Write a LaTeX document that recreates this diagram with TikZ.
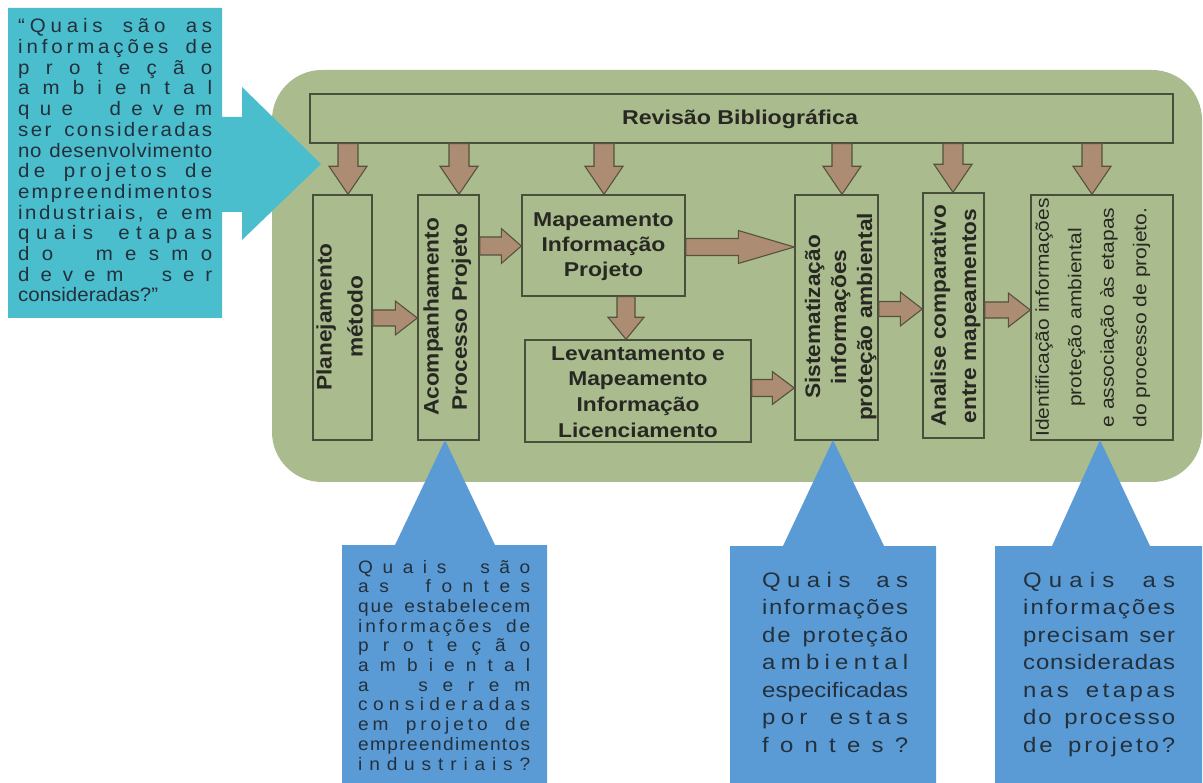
\documentclass[tikz,border=0pt]{standalone}
\usepackage{fontspec}
\setmainfont{Liberation Sans}
\usepackage{graphicx}
\usetikzlibrary{calc}

\definecolor{panelgreen}{RGB}{170,188,142}
\definecolor{qcyan}{RGB}{75,190,205}
\definecolor{qblue}{RGB}{91,155,213}
\definecolor{qtext}{RGB}{35,48,60}
\definecolor{arrowbrown}{RGB}{172,140,115}
\definecolor{arrowedge}{RGB}{85,82,62}
\definecolor{boxline}{RGB}{72,80,60}
\definecolor{labeltext}{RGB}{40,40,35}

% one justified line: letters share the free space, | marks a word gap
\ExplSyntaxOn
\dim_new:N \l_qline_width_dim
\NewDocumentCommand \qwidth { m } { \dim_set:Nn \l_qline_width_dim { #1 } }
\NewDocumentCommand \qline { m }
  {
    \hbox_to_wd:nn { \l_qline_width_dim }
      {
        \tl_map_inline:nn { #1 }
          {
            \str_if_eq:nnTF { ##1 } { | }
              { \hskip .28em \hfil \hfil }
              { ##1 \hfil }
          }
        \unskip
      }
  }
\ExplSyntaxOff

% labels: vertical (bold), vertical (regular), horizontal (bold)
\newcommand\vtext[2]{\fontsize{21}{#1}\selectfont\bfseries
  \scalebox{1.08}[1]{\begin{tabular}{@{}c@{}}#2\end{tabular}}}
\newcommand\vtextlight[2]{\fontsize{18.6}{#1}\selectfont
  \scalebox{1.13}[1]{\begin{tabular}{@{}c@{}}#2\end{tabular}}}
\newcommand\htext[3]{\fontsize{20}{#1}\selectfont\bfseries
  \scalebox{#2}[1]{\begin{tabular}{@{}c@{}}#3\end{tabular}}}

% block arrows between named boxes
\newcommand\rightblock[6]{% from, to, y, shaft half, head half, head length
  \draw[blockarrow] let \p1=(#1.east), \p2=(#2.west), \p3=(0,#3) in
    (\x1,\y3+#4pt) -- (\x2-#6pt,\y3+#4pt) -- (\x2-#6pt,\y3+#5pt) -- (\x2,\y3)
    -- (\x2-#6pt,\y3-#5pt) -- (\x2-#6pt,\y3-#4pt) -- (\x1,\y3-#4pt) -- cycle;}
\newcommand\downblock[6]{% from, to, x, shaft half, head half, head length
  \draw[blockarrow] let \p1=(#1.south), \p2=(#2.north), \p3=(#3,0) in
    (\x3-#4pt,\y1) -- (\x3-#4pt,\y2+#6pt) -- (\x3-#5pt,\y2+#6pt) -- (\x3,\y2)
    -- (\x3+#5pt,\y2+#6pt) -- (\x3+#4pt,\y2+#6pt) -- (\x3+#4pt,\y1) -- cycle;}

\tikzset{
  flowbox/.style={draw=boxline, line width=1.4pt, inner sep=0pt},
  blockarrow/.style={fill=arrowbrown, draw=arrowedge, line width=1.1pt, line join=miter},
  boxlabel/.style={inner sep=0pt, text=labeltext},
  vlabel/.style={boxlabel, rotate=90},
  qnode/.style={inner sep=0pt, text=qtext, anchor=base west}
}

\begin{document}
\begin{tikzpicture}[x=1pt,y=-1pt]
\useasboundingbox (0,0) rectangle (1203,783);
\fill[white] (0,0) rectangle (1203,783);

% green process panel
\fill[panelgreen, rounded corners=50pt] (272,70) rectangle (1202,482);

% process boxes
\node[flowbox, minimum width=863pt, minimum height=49pt] (rev) at (741.5,118.5) {};
\node[flowbox, minimum width=59pt, minimum height=245pt] (plan) at (342.5,317.5) {};
\node[flowbox, minimum width=61pt, minimum height=245pt] (acomp) at (448.5,317.5) {};
\node[flowbox, minimum width=163pt, minimum height=101pt] (mapp) at (603.5,245.5) {};
\node[flowbox, minimum width=226pt, minimum height=102pt] (lev) at (638,391) {};
\node[flowbox, minimum width=83pt, minimum height=245pt] (sist) at (836.5,317.5) {};
\node[flowbox, minimum width=61pt, minimum height=245pt] (anal) at (953.5,315.5) {};
\node[flowbox, minimum width=142pt, minimum height=245pt] (ident) at (1102,317.5) {};

% box labels
\node[boxlabel] (revtext) at (740,119.5) {\htext{25}{1.16}{Revisão Bibliográfica}};
\node[boxlabel] (mapptext) at (603.5,247) {\htext{25}{1.15}{Mapeamento\\Informação\\Projeto}};
\node[boxlabel] (levtext) at (638,393.5) {\htext{25.7}{1.14}{Levantamento e\\Mapeamento\\Informação\\Licenciamento}};
\node[vlabel] (plantext) at (341,317) {\vtext{31}{Planejamento\\método}};
\node[vlabel] (acomptext) at (447,317) {\vtext{28.3}{Acompanhamento\\Processo Projeto}};
\node[vlabel] (sisttext) at (841,317) {\vtext{26}{Sistematização\\informações\\proteção ambiental}};
\node[vlabel] (analtext) at (955,316) {\vtext{30.3}{Analise comparativo\\entre  mapeamentos}};
\node[vlabel] (identtext) at (1091,317.5) {\vtextlight{32.5}{Identificação informações\\proteção ambiental\\e associação às etapas\\do processo de projeto.}};

% arrows from the literature review
\downblock{rev}{plan}{348}{10}{19}{28}
\downblock{rev}{acomp}{459}{10}{19}{28}
\downblock{rev}{mapp}{604}{10}{19}{28}
\downblock{rev}{sist}{842}{10}{19}{28}
\downblock{rev}{anal}{953}{10}{19}{28}
\downblock{rev}{ident}{1092}{10}{19}{28}

% flow between the steps
\downblock{mapp}{lev}{626}{9}{18}{22}
\rightblock{plan}{acomp}{318}{8}{17}{22}
\rightblock{acomp}{mapp}{246}{9}{17.5}{20}
\rightblock{mapp}{sist}{247}{8.5}{16.5}{56}
\rightblock{lev}{sist}{388}{8.5}{16.5}{22}
\rightblock{sist}{anal}{309}{7.5}{17}{22}
\rightblock{anal}{ident}{310}{8}{17}{22}

% question callouts
\fill[qcyan] (8,8) -- (222,8) -- (222,117) -- (242,117) -- (242,87) -- (321,164)
  -- (242,240) -- (242,212) -- (222,212) -- (222,318) -- (8,318) -- cycle;
\fill[qblue] (342,783) -- (342,545) -- (395,545) -- (445,440) -- (495,545)
  -- (547,545) -- (547,783) -- cycle;
\fill[qblue] (730,783) -- (730,546) -- (783,546) -- (833,440) -- (884,546)
  -- (936,546) -- (936,783) -- cycle;
\fill[qblue] (995,783) -- (995,546) -- (1052,546) -- (1100,440) -- (1150,546)
  -- (1202,546) -- (1202,783) -- cycle;

\node[qnode] (qmain) at (18,302) {\scalebox{1.05}[1]{\vbox{%
  \fontsize{19.5}{20.7}\selectfont\qwidth{184.8pt}%
  \qline{“Quais|são|as}
  \qline{informações|de}
  \qline{proteção}
  \qline{ambiental}
  \qline{que|devem}
  \qline{ser|consideradas}
  \qline{no|desenvolvimento}
  \qline{de|projetos|de}
  \qline{empreendimentos}
  \qline{industriais,|e|em}
  \qline{quais|etapas}
  \qline{do|mesmo}
  \qline{devem|ser}
  \hbox{consideradas?”}}}};

\node[qnode] (qfontes) at (358,770) {\scalebox{1.06}[1]{\vbox{%
  \fontsize{18}{19.7}\selectfont\qwidth{162.3pt}%
  \qline{Quais|são}
  \qline{as|fontes}
  \qline{que|estabelecem}
  \qline{informações|de}
  \qline{proteção}
  \qline{ambiental}
  \qline{a|serem}
  \qline{consideradas}
  \qline{em|projeto|de}
  \qline{empreendimentos}
  \qline{industriais?}}}};

\node[qnode] (qinfo) at (762,752) {\scalebox{1.14}[1]{\vbox{%
  \fontsize{21}{27.5}\selectfont\qwidth{128.1pt}%
  \qline{Quais|as}
  \qline{informações}
  \qline{de|proteção}
  \qline{ambiental}
  \qline{especificadas}
  \qline{por|estas}
  \qline{fontes?}}}};

\node[qnode] (qetapas) at (1023,752) {\scalebox{1.14}[1]{\vbox{%
  \fontsize{21}{27.5}\selectfont\qwidth{133.3pt}%
  \qline{Quais|as}
  \qline{informações}
  \qline{precisam|ser}
  \qline{consideradas}
  \qline{nas|etapas}
  \qline{do|processo}
  \qline{de|projeto?}}}};
\end{tikzpicture}
\end{document}
